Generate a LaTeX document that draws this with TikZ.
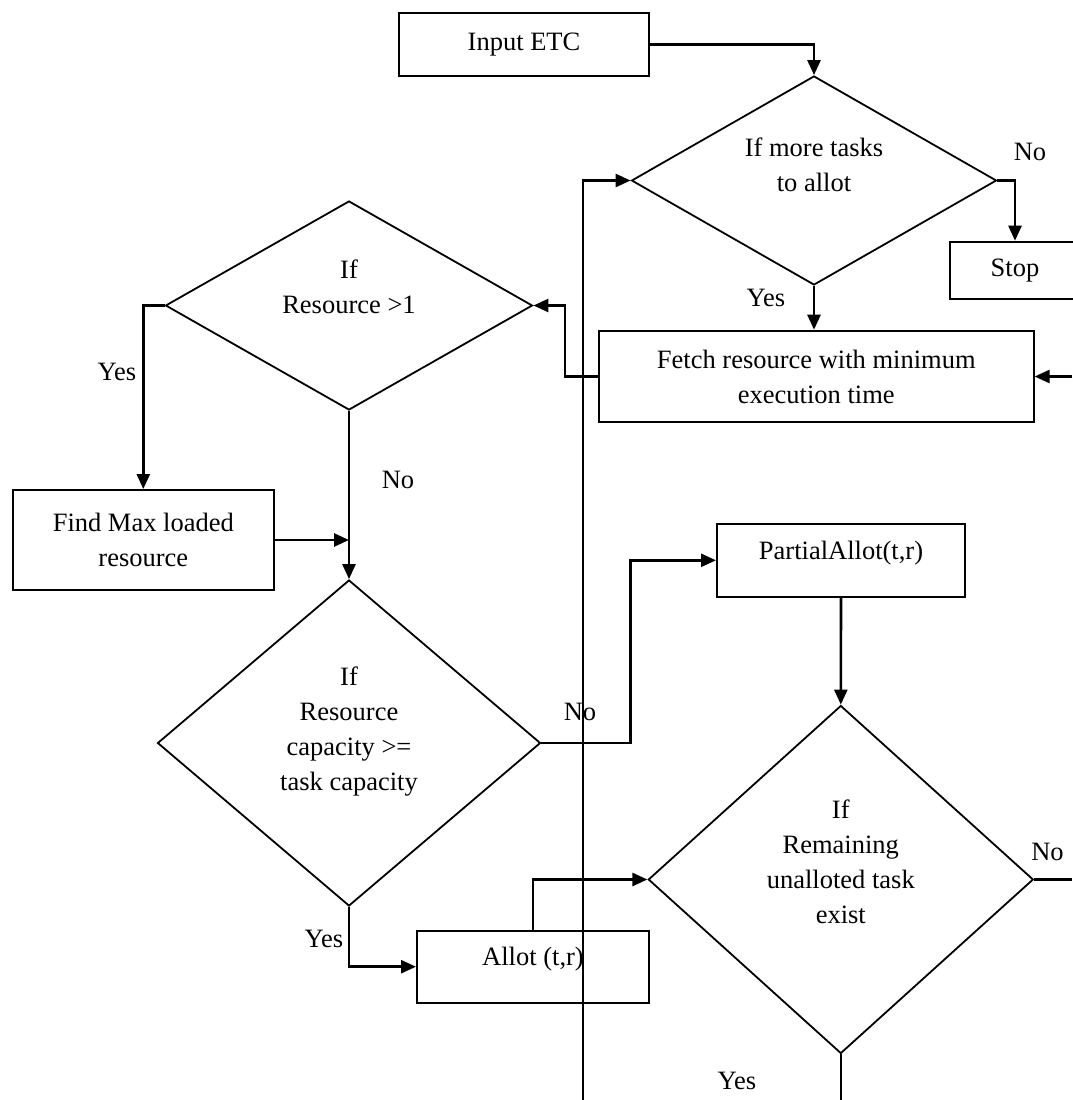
\documentclass[tikz,border=0pt]{standalone}
\usepackage{fontspec}
\setmainfont{Liberation Serif}
\usetikzlibrary{shapes.geometric,arrows.meta}
\tikzset{
  every node/.style={font=\fontsize{26.5pt}{35pt}\selectfont, inner sep=0pt},
  procbox/.style={draw, line width=2pt, rectangle, align=center},
  decide/.style={draw, line width=1.8pt, diamond, shape aspect=1},
  txt/.style={align=center},
  lbl/.style={},
  conn/.style={line width=2.6pt, line cap=butt},
  arr/.style={conn, -{Triangle[length=15pt,width=13pt]}}
}
\begin{document}
\begin{tikzpicture}[x=1pt,y=-1pt]
\useasboundingbox (0,0) rectangle (1072,1100);
% boxes
\node[procbox, minimum width=250pt, minimum height=63pt] (inp) at (524,44.2) {Input ETC};
\node[procbox, minimum width=130pt, minimum height=57.6pt] (stop) at (1015,270.5) {Stop};
\node[procbox, minimum width=434.7pt, minimum height=91.6pt] (fetch) at (816.3,376.5) {Fetch resource with minimum\\execution time};
\node[procbox, minimum width=261.5pt, minimum height=100pt] (find) at (143.3,540) {Find Max loaded\\resource};
\node[procbox, minimum width=248pt, minimum height=72.7pt, text depth=20pt] (part) at (841,560.3) {PartialAllot(t,r)};
\node[procbox, minimum width=232pt, minimum height=72pt, text depth=20pt] (allot) at (533,966.7) {Allot (t,r)};
% diamonds
\node[decide, minimum width=365pt, minimum height=209pt] (d1) at (814,180.5) {};
\node[decide, minimum width=367pt, minimum height=209pt] (d2) at (349,305.5) {};
\node[decide, minimum width=383pt, minimum height=326pt] (d3) at (349,743) {};
\node[decide, minimum width=385pt, minimum height=348pt] (d4) at (840.8,879.5) {};
% diamond texts
\node[txt] (d1t) at (814,165) {If more tasks\\to allot};
\node[txt] (d2t) at (349,287) {If\\Resource >1};
\node[txt] (d3t) at (349,732) {If\\Resource\\capacity >=\\task capacity};
\node[txt] (d4t) at (840.8,862) {If\\Remaining\\unalloted task\\exist};
% labels
\node[lbl] (l1) at (1030,152) {No};
\node[lbl] (l2) at (766,298) {Yes};
\node[lbl] (l3) at (117,372) {Yes};
\node[lbl] (l4) at (398,480) {No};
\node[lbl] (l5) at (580,712) {No};
\node[lbl] (l6) at (324,939) {Yes};
\node[lbl] (l7) at (1047.5,852) {No};
\node[lbl] (l8) at (737,1081) {Yes};
% free ends
\coordinate (bot1) at (583,1100);
\coordinate (bot2) at (840.8,1100);
\coordinate (rin) at (1072,376.5);
\coordinate (rout) at (1072,879.5);
% connectors
\draw[arr] (inp.east) -| (d1.north);
\draw[arr] (d1.east) -| (stop.north);
\draw[arr] (d1.south) -- (d1.south |- fetch.north);
\draw[arr] (fetch.west) -- ++(-33,0) |- (d2.east);
\draw[arr] (rin) -- (fetch.east);
\draw[arr] (d2.west) -| (find.north);
\draw[arr] (d2.south) -- (d3.north);
\draw[arr] (find.east) -- (find.east -| d2.south);
\draw[arr] (d3.east) -- ++(89,0) |- (part.west);
\draw[arr] (part.south) -- (d4.north);
\draw[arr] (d3.south) |- (allot.west);
\draw[arr] (allot.north) |- (d4.west);
\draw[arr] (bot1) |- (d1.west);
\draw[conn] (d4.east) -- (rout);
\draw[conn] (d4.south) -- (bot2);
\end{tikzpicture}
\end{document}
